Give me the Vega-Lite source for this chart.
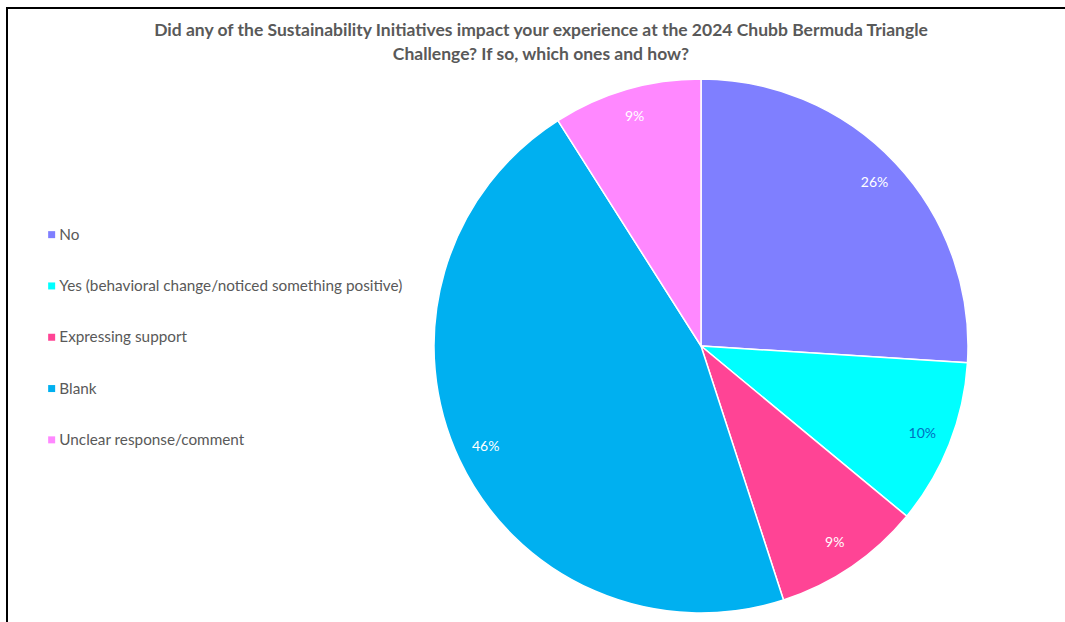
{
  "$schema": "https://vega.github.io/schema/vega-lite/v6.json",
  "width": 1388,
  "height": 676,
  "autosize": {"type": "none"},
  "padding": {"left": 7, "top": 8, "right": -330, "bottom": -62},
  "background": "white",
  "view": {"stroke": "#000000", "strokeWidth": 2},
  "title": {
    "text": ["Did any of the Sustainability Initiatives impact your experience at the 2024 Chubb Bermuda Triangle", "Challenge? If so, which ones and how?"],
    "anchor": "middle",
    "orient": "top",
    "baseline": "top",
    "offset": 0,
    "dx": -160,
    "dy": 55,
    "font": "Lato",
    "fontSize": 17.5,
    "fontWeight": "bold",
    "color": "#595959",
    "lineHeight": 24
  },
  "data": {
    "values": [
      {"category": "No", "value": 0.26, "o": 1},
      {"category": "Yes (behavioral change/noticed something positive)", "value": 0.10, "o": 2},
      {"category": "Expressing support", "value": 0.09, "o": 3},
      {"category": "Blank", "value": 0.46, "o": 4},
      {"category": "Unclear response/comment", "value": 0.09, "o": 5}
    ]
  },
  "encoding": {
    "theta": {"field": "value", "type": "quantitative", "stack": true},
    "order": {"field": "o", "type": "quantitative"}
  },
  "layer": [
    {
      "mark": {"type": "arc", "radius": 267, "stroke": "white", "strokeWidth": 1.5},
      "encoding": {
        "color": {
          "field": "category",
          "type": "nominal",
          "sort": null,
          "scale": {
            "domain": ["No", "Yes (behavioral change/noticed something positive)", "Expressing support", "Blank", "Unclear response/comment"],
            "range": ["#7F7FFF", "#00FFFF", "#FF4495", "#00B0F0", "#FF88FF"]
          },
          "legend": {
            "orient": "none",
            "legendX": 37,
            "legendY": 219,
            "title": null,
            "symbolType": "square",
            "symbolSize": 49,
            "symbolStrokeWidth": 0,
            "labelFont": "Lato",
            "labelFontSize": 15.3,
            "labelColor": "#595959",
            "labelOffset": 0,
            "rowPadding": 35.3,
            "padding": 0,
            "labelLimit": 500
          }
        }
      }
    },
    {
      "mark": {"type": "text", "radius": 238, "font": "Lato", "fontSize": 14},
      "encoding": {
        "text": {"field": "value", "type": "quantitative", "format": ".0%"},
        "color": {
          "condition": {"test": "datum.o === 2", "value": "#0070C0"},
          "value": "white"
        }
      }
    }
  ]
}
